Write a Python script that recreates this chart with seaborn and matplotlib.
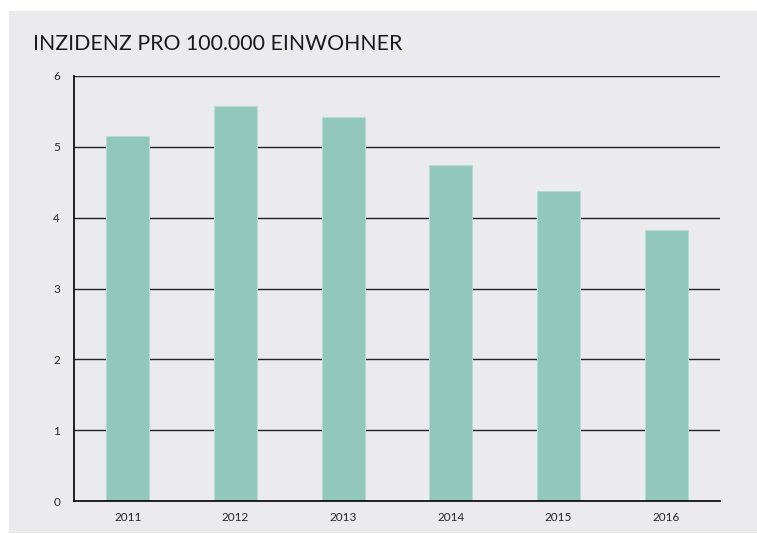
import matplotlib
matplotlib.use("Agg")
import matplotlib.pyplot as plt
import seaborn as sns
import pandas as pd
from matplotlib.patches import Rectangle

years = ["2011", "2012", "2013", "2014", "2015", "2016"]
incidence = [5.16, 5.57, 5.42, 4.74, 4.38, 3.82]
title = "INZIDENZ PRO 100.000 EINWOHNER"

sns.set_style("white")
plt.rcParams["font.family"] = ["Lato", "DejaVu Sans"]

bg = "#ebebed"
bar_color = "#92c8bb"

fig = plt.figure(figsize=(7.57, 5.34), dpi=100)
fig.patch.set_facecolor("white")
fig.patches.append(Rectangle((9 / 757, 1 - 533 / 534), 748 / 757, 522 / 534,
                             transform=fig.transFigure, facecolor=bg,
                             edgecolor="none", zorder=-1))

ax = fig.add_axes([74 / 757, 33 / 534, 646 / 757, 425 / 534])
ax.set_facecolor(bg)
ax.patch.set_alpha(0)

df = pd.DataFrame({"year": years, "value": incidence})
sns.barplot(data=df, x="year", y="value", color=bar_color, saturation=1,
            width=0.4, edgecolor="#b5dbd1", linewidth=0.8, ax=ax, zorder=3)

ax.set_xlim(-0.5, len(years) - 0.5)
ax.set_ylim(0, 6)
ax.set_yticks(range(0, 7))
ax.set_yticklabels([str(i) for i in range(0, 7)], fontsize=8.5)
for y in range(1, 7):
    ax.axhline(y, color="#222222", lw=1.0, zorder=1)

ax.set_xticks([i - 0.5 for i in range(len(years) + 1)])
ax.set_xticklabels([])
ax.set_xticks(range(len(years)), minor=True)
ax.set_xticklabels(years, minor=True, fontsize=8.5)
ax.tick_params(axis="x", which="major", direction="out", length=4, width=1.2,
               color="black")
ax.tick_params(axis="x", which="minor", length=0, pad=8)
ax.tick_params(axis="y", direction="out", length=4, width=1.0, color="black",
               pad=6)

ax.set_xlabel("")
ax.set_ylabel("")
for s in ["top", "right"]:
    ax.spines[s].set_visible(False)
for s in ["left", "bottom"]:
    ax.spines[s].set_color("black")
    ax.spines[s].set_linewidth(1.2)
    ax.spines[s].set_zorder(4)

fig.text(33 / 757, 1 - 44 / 534, title, fontsize=15.3, color="#1a1a1a",
         va="center", ha="left")

fig.savefig("out.png", dpi=100)
